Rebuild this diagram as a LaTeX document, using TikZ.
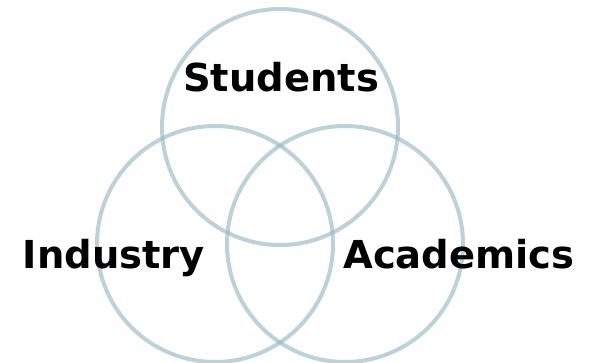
\documentclass[tikz,border=0pt]{standalone}
\usepackage{fontspec}
\setmainfont{DejaVu Sans}
\begin{document}
\begin{tikzpicture}[x=1pt,y=-1pt,
  ring/.style={draw={rgb,255:red,150;green,182;blue,195}, draw opacity=0.62, line width=4pt},
  label/.style={font=\fontsize{38.5}{40}\selectfont\bfseries, text=black, anchor=base, inner sep=0pt}]
\useasboundingbox[fill=white] (0,0) rectangle (591,363);
\coordinate (cs) at (280,127);
\coordinate (ci) at (215,244);
\coordinate (ca) at (345,244);
\draw[ring] (cs) circle[radius=118];
\draw[ring] (ci) circle[radius=118];
\draw[ring] (ca) circle[radius=118];
\node[label] (students) at (281,92) {Students};
\node[label] (industry) at (114,269) {Industry};
\node[label] (academics) at (459,269) {Academics};
\end{tikzpicture}
\end{document}
